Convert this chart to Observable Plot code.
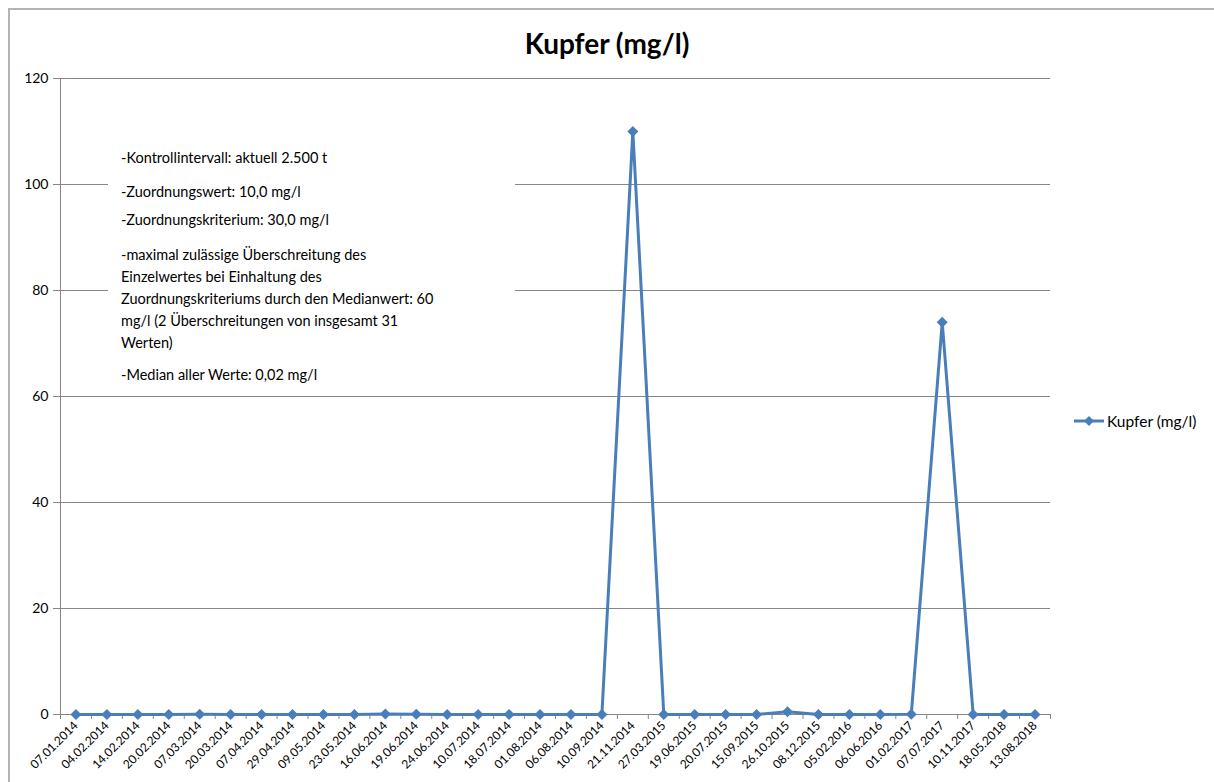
<!DOCTYPE html>
<html><head><meta charset="utf-8">
<script src="https://cdn.jsdelivr.net/npm/d3@7"></script>
<script src="https://cdn.jsdelivr.net/npm/@observablehq/plot@0.6"></script>
<style>
body{margin:0;background:#fff;font-family:Lato,"Open Sans",sans-serif;color:#000;}
#wrap{position:relative;width:1214px;height:782px;overflow:hidden;background:#fff;}
#frame{position:absolute;left:8px;top:8px;width:1300px;height:900px;border:2px solid #b3b3b3;box-sizing:border-box;}
#chart{position:absolute;left:0;top:0;}
#title{position:absolute;top:27px;left:0;width:1214px;text-align:center;font-weight:bold;font-size:28px;line-height:32px;}
#note{position:absolute;left:108px;top:140px;width:407px;height:256px;background:#fff;}
#note p{position:absolute;left:13px;margin:0;font-size:14.5px;line-height:22px;white-space:nowrap;}
#legend{position:absolute;left:1072px;top:412px;font-size:15.5px;display:flex;align-items:center;}
</style></head>
<body>
<div id="wrap">
  <div id="frame"></div>
  <div id="chart"></div>
  <div id="title">Kupfer (mg/l)</div>
  <div id="note"></div>
  <div id="legend"></div>
</div>
<script>
const dates = ["07.01.2014","04.02.2014","14.02.2014","20.02.2014","07.03.2014","20.03.2014","07.04.2014","29.04.2014","09.05.2014","23.05.2014","16.06.2014","19.06.2014","24.06.2014","10.07.2014","18.07.2014","01.08.2014","06.08.2014","10.09.2014","21.11.2014","27.03.2015","19.06.2015","20.07.2015","15.09.2015","26.10.2015","08.12.2015","05.02.2016","06.06.2016","01.02.2017","07.07.2017","10.11.2017","18.05.2018","13.08.2018"];
const values = [0.02,0.01,0.02,0.02,0.05,0.01,0.02,0.02,0.01,0.01,0.1,0.03,0.02,0.02,0.01,0.02,0.01,0.02,110,0.02,0.01,0.02,0.01,0.5,0.02,0.01,0.02,0.03,74,0.02,0.01,0.02];
const yTicks = [0,20,40,60,80,100,120];
const seriesName = "Kupfer (mg/l)";
const noteLines = [
  ["-Kontrollintervall: aktuell 2.500 t"],
  ["-Zuordnungswert: 10,0 mg/l"],
  ["-Zuordnungskriterium: 30,0 mg/l"],
  ["-maximal zulässige Überschreitung des","Einzelwertes bei Einhaltung des","Zuordnungskriteriums durch den Medianwert: 60","mg/l (2 Überschreitungen von insgesamt 31","Werten)"],
  ["-Median aller Werte: 0,02 mg/l"]
];

const data = dates.map((d, i) => ({date: d, value: values[i]}));
const W = 1214, H = 782, mL = 60, mR = 164, mT = 78, mB = 68;
const bw = (W - mL - mR) / dates.length;
const blue = "#4A7EBB", grey = "#868686";

const chart = Plot.plot({
  width: W, height: H,
  marginLeft: mL, marginRight: mR, marginTop: mT, marginBottom: mB,
  style: {fontFamily: "Lato, 'Open Sans', sans-serif", fontSize: "11px", color: "#000", background: "transparent", overflow: "visible"},
  x: {type: "band", domain: dates, padding: 0, round: false, label: null},
  y: {domain: [0, 120], label: null},
  marks: [
    Plot.gridY(yTicks.filter(v => v > 0), {stroke: grey, strokeOpacity: 1}),
    Plot.axisY(yTicks, {tickSize: 7, tickPadding: 5, fontSize: 14, stroke: grey, label: null}),
    Plot.frame({anchor: "left", stroke: grey}),
    Plot.ruleY([0], {stroke: grey}),
    Plot.axisX({tickSize: 5, tickFormat: () => "", dx: -bw / 2, stroke: grey, label: null}),
    Plot.axisX([dates[dates.length - 1]], {tickSize: 5, tickFormat: () => "", dx: bw / 2, stroke: grey, label: null}),
    Plot.axisX({tickSize: 0, tickRotate: -45, tickPadding: 9, fontSize: 12, fill: "#000", label: null}),
    Plot.line(data, {x: "date", y: "value", stroke: blue, strokeWidth: 3}),
    Plot.dot(data, {x: "date", y: "value", symbol: "square", r: 4.4, rotate: 45, fill: blue, stroke: "none"})
  ]
});
document.getElementById("chart").appendChild(chart);

// note box
const note = document.getElementById("note");
const paraTops = [7, 41, 69, 104, 224];
noteLines.forEach((lines, i) => {
  const p = document.createElement("p");
  p.style.top = paraTops[i] + "px";
  p.innerHTML = lines.join("<br>");
  note.appendChild(p);
});

// legend
const leg = document.getElementById("legend");
leg.innerHTML = `<svg width="34" height="14" style="margin-right:1px"><line x1="2" x2="32" y1="7" y2="7" stroke="${blue}" stroke-width="3"/><rect x="13.5" y="3.5" width="7" height="7" fill="${blue}" transform="rotate(45 17 7)"/></svg><span>${seriesName}</span>`;
</script>
</body></html>
